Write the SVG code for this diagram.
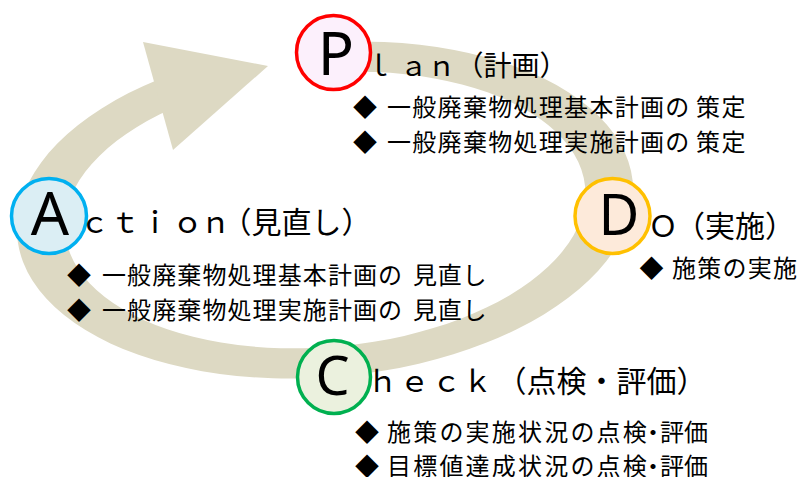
<svg xmlns="http://www.w3.org/2000/svg" width="801" height="477" viewBox="0 0 801 477">
<style>
.band{fill:#DDD9C3}
.ring{stroke-width:3.5}
.big{font-family:"Noto Sans","Liberation Sans",sans-serif;font-size:60px;fill:#000;text-anchor:middle}
.ttl{font-family:"Noto Sans CJK JP","Noto Sans CJK SC",sans-serif;font-size:30px;fill:#000}
.bl{font-family:"Noto Sans CJK JP","Noto Sans CJK SC",sans-serif;font-size:24px;fill:#000}
</style>
<rect width="801" height="477" fill="#ffffff"/>
<g id="connectors">
  <g transform="translate(325,210) rotate(-5)">
    <path class="band" d="M0,-167 A309,167 0 1 1 -154.5,-144.6 L-130.5,-118.6 A261,137 0 1 0 0,-137 Z"/>
  </g>
  <polygon class="band" points="143,42 268,66 173,150"/>
</g>
<g id="plan">
  <circle class="ring" cx="333.5" cy="52.5" r="37" fill="#FCF0FC" stroke="#FF0000"/>
  <text class="big" x="336" y="75">P</text>
  <text class="ttl" style="font-size:28px" y="76"><tspan x="365 399.5 427.5">ｌａｎ</tspan><tspan x="455.5">（計画）</tspan></text>
  <text class="bl" y="115.5"><tspan x="353">◆</tspan><tspan x="387" letter-spacing="1.3">一般廃棄物処理基本計画の</tspan><tspan x="696" letter-spacing="1.5">策定</tspan></text>
  <text class="bl" y="150.5"><tspan x="353">◆</tspan><tspan x="387" letter-spacing="1.3">一般廃棄物処理実施計画の</tspan><tspan x="696" letter-spacing="1.5">策定</tspan></text>
</g>
<g id="do">
  <circle class="ring" cx="612.5" cy="216" r="37.5" fill="#FDEADA" stroke="#FFC000"/>
  <text class="big" x="619" y="235" style="font-size:56px">D</text>
  <text class="ttl" y="237"><tspan x="648">Ｏ</tspan><tspan x="675">（実施）</tspan></text>
  <text class="bl" y="276.5"><tspan x="639.5">◆</tspan><tspan x="672" letter-spacing="1.25">施策の実施</tspan></text>
</g>
<g id="check">
  <circle class="ring" cx="334" cy="377" r="36.5" fill="#EBF1DE" stroke="#00B050"/>
  <text class="big" x="332.5" y="395" style="font-size:54px">C</text>
  <text class="ttl" y="392"><tspan x="367.5 399.5 431.5 462.5">ｈｅｃｋ</tspan><tspan x="496.5">（点検・評価）</tspan></text>
  <text class="bl" y="440.5"><tspan x="355">◆</tspan><tspan x="387" letter-spacing="2.2">施策の実施状況の点検</tspan><tspan x="641">・</tspan><tspan x="660">評価</tspan></text>
  <text class="bl" y="474.5"><tspan x="355">◆</tspan><tspan x="387" letter-spacing="2.2">目標値達成状況の点検</tspan><tspan x="641">・</tspan><tspan x="660">評価</tspan></text>
</g>
<g id="action">
  <circle class="ring" cx="49" cy="216" r="37.5" fill="#DBEEF4" stroke="#00B0F0"/>
  <text class="big" x="50" y="235">A</text>
  <text class="ttl" y="232.5"><tspan x="79.5 110 140 172.5 200.5">ｃｔｉｏｎ</tspan><tspan x="221.5">（見直し）</tspan></text>
  <text class="bl" y="283.5"><tspan x="67">◆</tspan><tspan x="102" letter-spacing="1.1">一般廃棄物処理基本計画の</tspan><tspan x="413" letter-spacing="0.8">見直し</tspan></text>
  <text class="bl" y="318.5"><tspan x="67">◆</tspan><tspan x="102" letter-spacing="1.1">一般廃棄物処理実施計画の</tspan><tspan x="413" letter-spacing="0.8">見直し</tspan></text>
</g>
</svg>
